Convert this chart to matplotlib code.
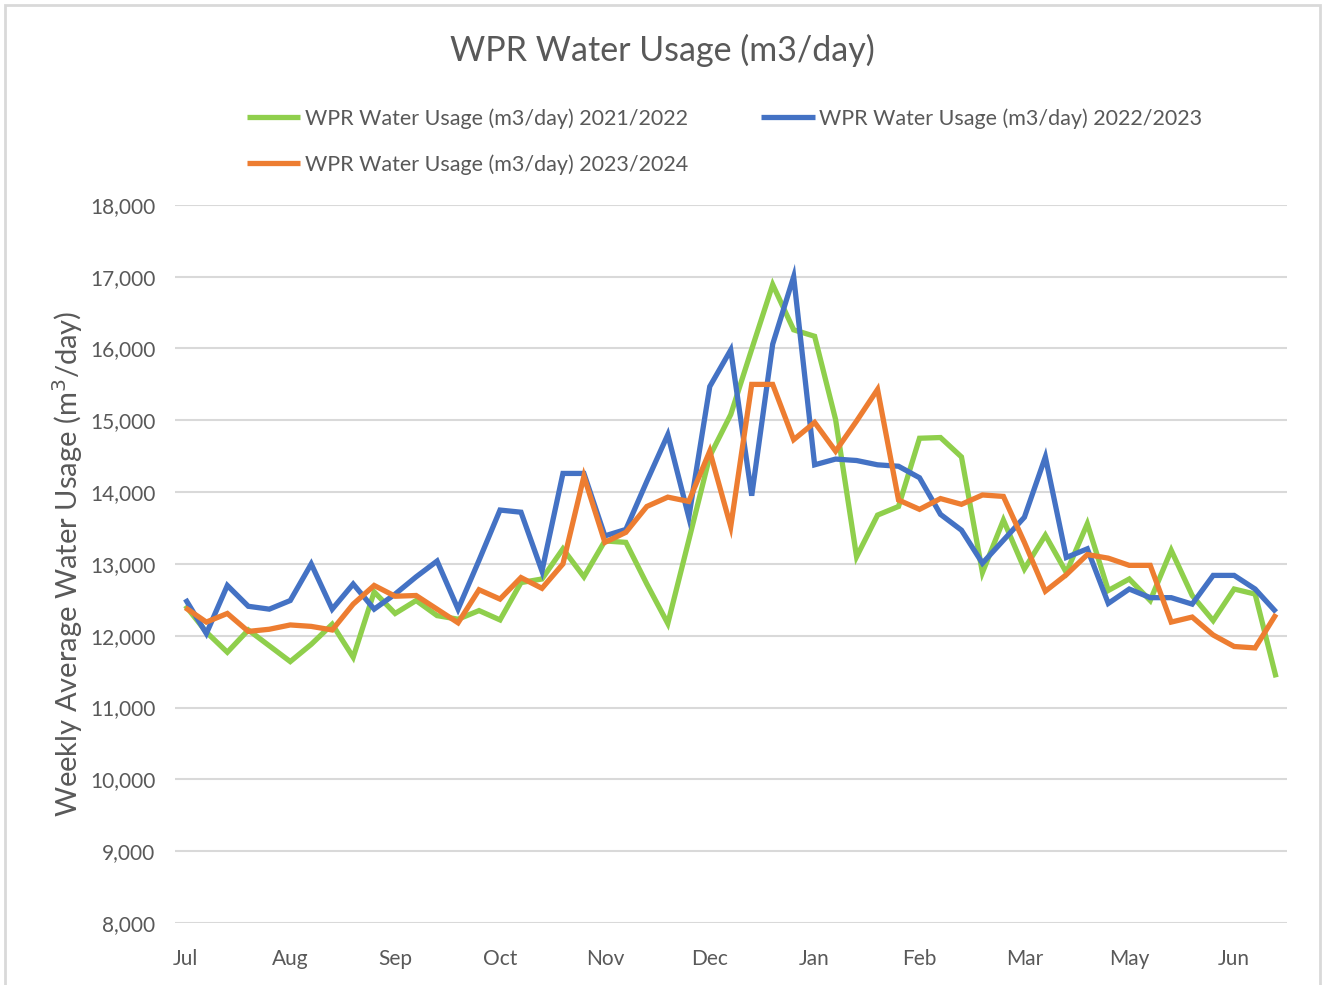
import numpy as np
import matplotlib
matplotlib.use("Agg")
import matplotlib.pyplot as plt
from matplotlib.patches import Rectangle
from matplotlib.ticker import FuncFormatter

plt.rcParams["font.family"] = ["Lato", "DejaVu Sans"]

# weekly points, labels every 5 weeks (source chart skips Apr)
MONTH_LABELS = ["Jul", "Aug", "Sep", "Oct", "Nov", "Dec", "Jan", "Feb", "Mar", "May", "Jun"]

USAGE_2122 = [12420, 12050, 11770, 12080, 11860, 11640, 11880, 12160, 11700, 12610,
              12310, 12490, 12280, 12230, 12350, 12220, 12740, 12790, 13210, 12820,
              13320, 13300, 12720, 12170, 13330, 14500, 15080, 15990, 16890, 16260,
              16170, 15010, 13100, 13680, 13800, 14750, 14760, 14490, 12880, 13610,
              12930, 13400, 12880, 13560, 12630, 12790, 12490, 13190, 12560, 12210,
              12650, 12580, 11420]

USAGE_2223 = [12510, 12030, 12700, 12410, 12370, 12490, 13000, 12370, 12720, 12370,
              12580, 12820, 13040, 12370, 13050, 13750, 13720, 12900, 14260, 14260,
              13390, 13480, 14150, 14800, 13650, 15470, 15980, 13950, 16060, 17000,
              14380, 14460, 14440, 14380, 14360, 14200, 13690, 13470, 13010, 13330,
              13650, 14490, 13090, 13210, 12450, 12650, 12530, 12530, 12440, 12840,
              12840, 12650, 12330]

USAGE_2324 = [12390, 12190, 12310, 12060, 12090, 12150, 12130, 12080, 12440, 12700,
              12550, 12560, 12370, 12180, 12640, 12510, 12810, 12660, 13000, 14220,
              13300, 13440, 13800, 13930, 13870, 14570, 13520, 15500, 15500, 14730,
              14970, 14570, 14990, 15430, 13890, 13760, 13910, 13830, 13960, 13940,
              13300, 12620, 12850, 13130, 13080, 12980, 12980, 12190, 12260, 12010,
              11850, 11830, 12300]

SERIES = [
    ("WPR Water Usage (m3/day) 2021/2022", USAGE_2122, "#8FCF4C"),
    ("WPR Water Usage (m3/day) 2022/2023", USAGE_2223, "#4472C4"),
    ("WPR Water Usage (m3/day) 2023/2024", USAGE_2324, "#ED7D31"),
]

TEXT_COLOR = "#595959"

fig = plt.figure(figsize=(13.25, 9.85), dpi=100)
ax = fig.add_axes([0.132, 0.063, 0.839, 0.729])

weeks = np.arange(len(USAGE_2122))
for label, values, color in SERIES:
    ax.plot(weeks, values, color=color, linewidth=3.8, label=label,
            solid_joinstyle="miter", solid_capstyle="butt")

ax.set_xlim(-0.5, len(weeks) - 0.5)
ax.set_ylim(8000, 18000)
ax.set_yticks(np.arange(8000, 18001, 1000))
ax.yaxis.set_major_formatter(FuncFormatter(lambda v, _: f"{v:,.0f}"))
ax.set_xticks(weeks[::5])
ax.set_xticklabels(MONTH_LABELS)

ax.grid(axis="y", color="#D9D9D9", linewidth=1.5)
ax.set_axisbelow(True)
for s in ax.spines.values():
    s.set_visible(False)
ax.tick_params(length=0, labelsize=15, colors=TEXT_COLOR, pad=14)
ax.tick_params(axis="x", pad=19)

ax.set_ylabel("Weekly Average Water Usage (m$^3$/day)", fontsize=21,
              color=TEXT_COLOR, labelpad=4)

fig.text(0.5, 0.949, "WPR Water Usage (m3/day)", ha="center", va="center",
         fontsize=24.5, color=TEXT_COLOR)

# row-wise legend order: 2021/22, 2022/23 on first row, 2023/24 below
handles, labels = ax.get_legend_handles_labels()
order = [0, 2, 1]
fig.legend([handles[i] for i in order], [labels[i] for i in order], ncol=2,
           loc="upper left", bbox_to_anchor=(0.178, 0.901), frameon=False,
           fontsize=15.5, labelcolor=TEXT_COLOR, handlelength=2.5,
           handletextpad=0.2, columnspacing=3.4, labelspacing=1.18, borderpad=0)

fig.patches.append(Rectangle((0.004, -0.01), 0.992, 1.005, transform=fig.transFigure,
                             fill=False, edgecolor="#D9D9D9", linewidth=2))

fig.savefig("out.png", dpi=100)
